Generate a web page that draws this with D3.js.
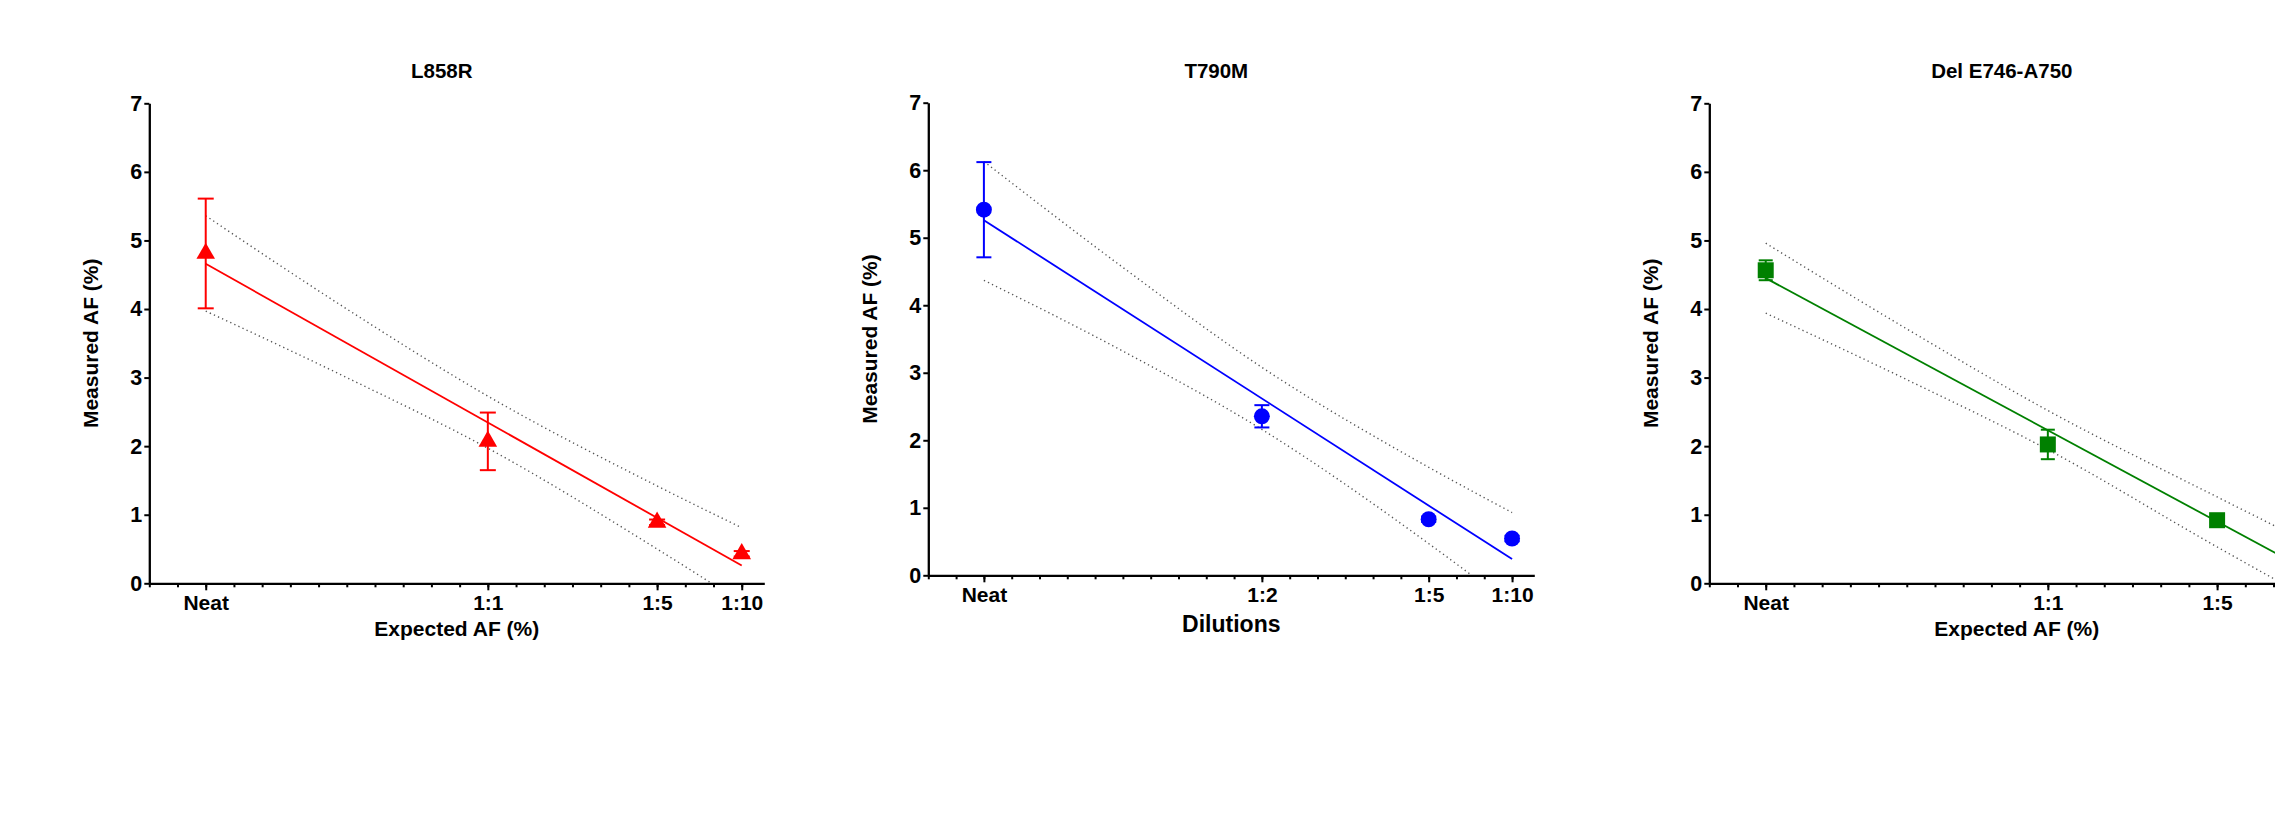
<!DOCTYPE html>
<html>
<head>
<meta charset="utf-8">
<script src="https://cdn.jsdelivr.net/npm/d3@7"></script>
<style>
  body { margin: 0; background: #fff; }
  svg { display: block; }
  text { font-family: "Liberation Sans", Arial, sans-serif; font-weight: bold; fill: #000; }
  .axis path, .axis line { stroke: #000; }
  .axis text { font-family: "Liberation Sans", Arial, sans-serif; font-weight: bold; }
</style>
</head>
<body>
<svg id="chart" width="2275" height="822"></svg>
<script>
// x positions of the dilutions on the (linear) x axis, in minor-tick units
var dilutionPos = [2, 12, 18, 21]
var bandPos = [2, 7, 12, 18, 21]
var fitPos = [2, 21]
var minorTicks = [0,1,2,3,4,5,6,7,8,9,10,11,12,13,14,15,16,17,18,19,20,21]
var yTicks = [0, 1, 2, 3, 4, 5, 6, 7]

var titles = ["L858R", "T790M", "Del E746-A750"]
var xTitles = ["Expected AF (%)", "Dilutions", "Expected AF (%)"]

var labelsL858R = ["Neat", "1:1", "1:5", "1:10"]
var labelsT790M = ["Neat", "1:2", "1:5", "1:10"]
var labelsDel = ["Neat", "1:1", "1:5", "1:10"]

// mean measured AF and error (half bar)
var meanL858R = [4.81, 2.07, 0.89, 0.43]
var errL858R = [0.80, 0.42, 0.04, 0.04]
var meanT790M = [5.415, 2.355, 0.83, 0.545]
var errT790M = [0.705, 0.165, 0.04, 0.04]
var meanDel = [4.565, 2.025, 0.92, 0.33]
var errDel = [0.145, 0.215, 0.04, 0.04]

// regression line ends
var fitL858R = [4.66, 0.26]
var fitT790M = [5.26, 0.24]
var fitDel = [4.45, 0.235]

// 95% bands read at bandPos
var upL858R = [5.36, 4.00, 2.73, 1.42, 0.81]
var loL858R = [3.97, 3.00, 1.97, 0.50, -0.28]
var upT790M = [6.13, 4.56, 3.08, 1.60, 0.93]
var loT790M = [4.37, 3.32, 2.16, 0.47, -0.45]
var upDel = [4.96, 3.71, 2.52, 1.26, 0.64]
var loDel = [3.94, 2.97, 1.95, 0.53, -0.16]

var W = 2275, H = 822

var panels = [
	{ left: 149.3, right: 764.3, top: 103.3, bottom: 583.3, color: "#ff0000", symbol: d3.symbolTriangle, size: 150,
		labels: labelsL858R, mean: meanL858R, err: errL858R, fit: fitL858R, up: upL858R, lo: loL858R, cap: 16, xTitleSize: 21, xTitleGap: 53 },
	{ left: 928.3, right: 1534.3, top: 102.7, bottom: 575.3, color: "#0000ff", symbol: d3.symbolCircle, size: 200,
		labels: labelsT790M, mean: meanT790M, err: errT790M, fit: fitT790M, up: upT790M, lo: loT790M, cap: 15, xTitleSize: 23, xTitleGap: 56.5 },
	{ left: 1709.3, right: 2324.3, top: 103.3, bottom: 583.3, color: "#008000", symbol: d3.symbolSquare, size: 256,
		labels: labelsDel, mean: meanDel, err: errDel, fit: fitDel, up: upDel, lo: loDel, cap: 14, xTitleSize: 21, xTitleGap: 53 }
]

var svg = d3.select("#chart")
svg.append("rect").attr("width", W).attr("height", H).attr("fill", "#fff")

panels.forEach(function(p, i) {
	var x = d3.scaleLinear().domain([0, 21.8]).range([p.left, p.right])
	var y = d3.scaleLinear().domain([0, 7]).range([p.bottom, p.top])
	var g = svg.append("g")

	g.append("clipPath").attr("id", "clip" + i)
		.append("rect")
		.attr("x", p.left).attr("y", p.top - 20)
		.attr("width", p.right - p.left).attr("height", p.bottom - p.top + 20)

	var plot = g.append("g").attr("clip-path", "url(#clip" + i + ")")

	var band = d3.line()
		.x(function(d) { return x(d[0]) })
		.y(function(d) { return y(d[1]) })
		.curve(d3.curveMonotoneX)

	;[p.up, p.lo].forEach(function(vals) {
		plot.append("path")
			.attr("d", band(bandPos.map(function(bx, k) { return [bx, vals[k]] })))
			.attr("fill", "none")
			.attr("stroke", "#555")
			.attr("stroke-width", 1.4)
			.attr("stroke-dasharray", "1.3,3.2")
	})

	plot.append("path")
		.attr("d", d3.line()(fitPos.map(function(fx, k) { return [x(fx), y(p.fit[k])] })))
		.attr("fill", "none")
		.attr("stroke", p.color)
		.attr("stroke-width", 1.8)

	// error bars
	p.mean.forEach(function(m, k) {
		var cx = x(dilutionPos[k])
		var e = p.err[k]
		g.append("line").attr("x1", cx).attr("x2", cx).attr("y1", y(m + e)).attr("y2", y(m - e))
			.attr("stroke", p.color).attr("stroke-width", 2)
		;[m + e, m - e].forEach(function(v) {
			g.append("line").attr("x1", cx - p.cap / 2).attr("x2", cx + p.cap / 2)
				.attr("y1", y(v)).attr("y2", y(v))
				.attr("stroke", p.color).attr("stroke-width", 2)
		})
	})

	// markers
	p.mean.forEach(function(m, k) {
		g.append("path")
			.attr("d", d3.symbol().type(p.symbol).size(p.size)())
			.attr("transform", "translate(" + x(dilutionPos[k]) + "," + y(m) + ")")
			.attr("fill", p.color)
	})

	// axes
	var yAxis = g.append("g").attr("class", "axis")
		.attr("transform", "translate(" + p.left + ",0)")
		.call(d3.axisLeft(y).tickValues(yTicks).tickSize(5).tickSizeOuter(0).tickPadding(2).tickFormat(d3.format("d")))
	yAxis.selectAll("text").style("font-size", "21.5px")

	g.append("g").attr("class", "axis")
		.attr("transform", "translate(0," + p.bottom + ")")
		.call(d3.axisBottom(x).tickValues(minorTicks).tickSize(4).tickSizeOuter(0).tickFormat(""))

	var xMajor = g.append("g").attr("class", "axis")
		.attr("transform", "translate(0," + p.bottom + ")")
		.call(d3.axisBottom(x).tickValues(dilutionPos).tickSize(7).tickSizeOuter(0).tickPadding(5)
			.tickFormat(function(d, k) { return p.labels[k] }))
	xMajor.selectAll("text").style("font-size", "21px")
	// labels that fall past the page edge are not shown in the original either
	xMajor.selectAll(".tick").filter(function(d) { return x(d) > W }).select("text").remove()
	xMajor.select(".domain").remove()

	g.selectAll(".axis .domain").attr("stroke-width", 2.3)
	g.selectAll(".axis .tick line").attr("stroke-width", 2)

	var cx = (p.left + p.right) / 2
	g.append("text")
		.attr("x", cx - 15).attr("y", 78.4)
		.attr("text-anchor", "middle")
		.style("font-size", "20.5px")
		.text(titles[i])

	g.append("text")
		.attr("x", cx).attr("y", p.bottom + p.xTitleGap)
		.attr("text-anchor", "middle")
		.style("font-size", p.xTitleSize + "px")
		.text(xTitles[i])

	g.append("text")
		.attr("transform", "translate(" + (p.left - 51) + "," + ((p.top + p.bottom) / 2) + ") rotate(-90)")
		.attr("text-anchor", "middle")
		.style("font-size", "21px")
		.text("Measured AF (%)")
})
</script>
</body>
</html>
